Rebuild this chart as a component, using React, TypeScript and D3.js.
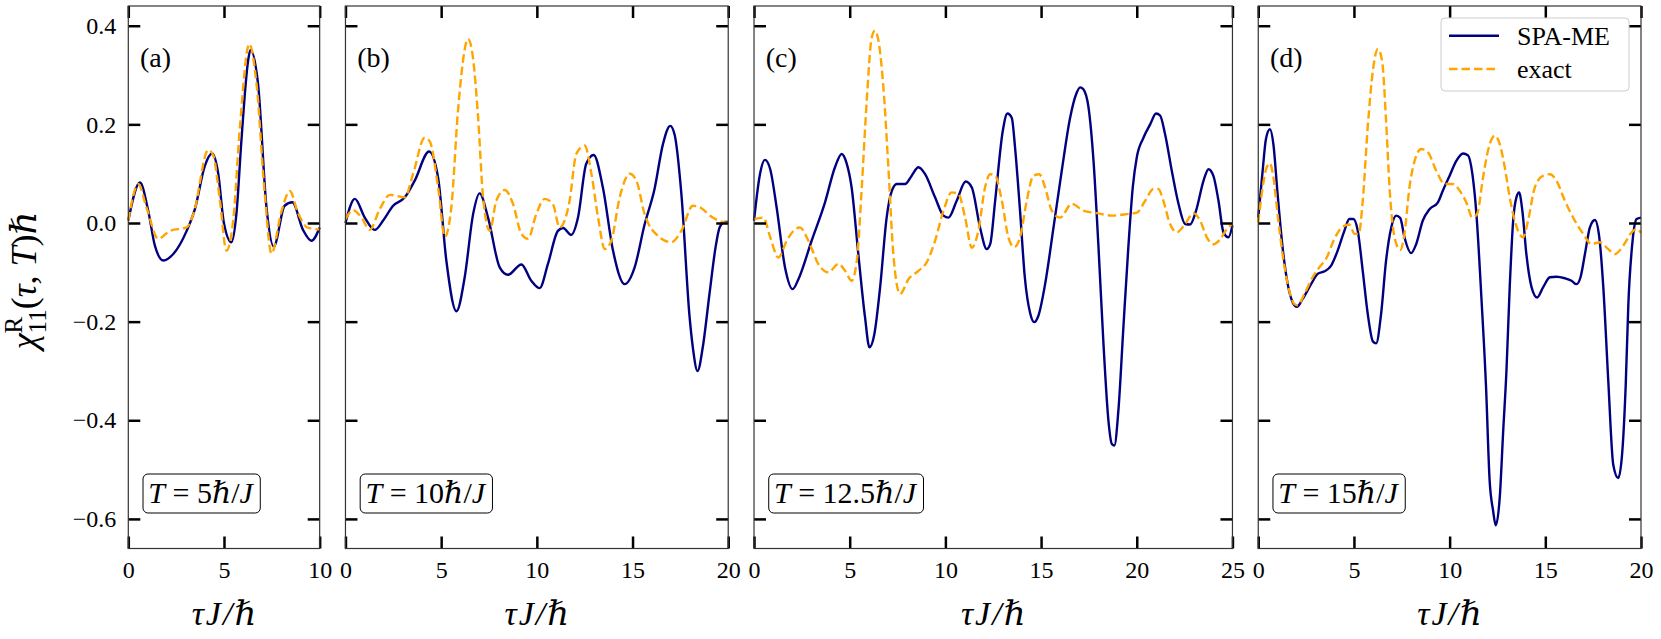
import * as d3 from 'd3'
import { useEffect, useRef, type ReactElement } from 'react'

type Pt = [number, number]

// SPA-ME and exact response (tau, chi)
const spaA: Pt[] = [
  [0, 0.005], [0.61, 0.082], [1.04, 0.025], [1.39, -0.046], [1.83, -0.076], [2.35, -0.063],
  [3.05, -0.016], [3.48, 0.028], [4.0, 0.116], [4.38, 0.141], [4.7, 0.1], [4.99, 0.001],
  [5.39, -0.039], [5.65, 0.019], [5.91, 0.167], [6.26, 0.329], [6.38, 0.351], [6.78, 0.282],
  [7.22, 0.032], [7.6, -0.048], [8.17, 0.035], [8.57, 0.042], [9.13, -0.014], [9.57, -0.036],
  [10, -0.009],
]
const exactA: Pt[] = [
  [0, 0.005], [0.52, 0.079], [0.96, 0.03], [1.57, -0.032], [2.17, -0.016], [3.05, -0.009],
  [3.4, 0.018], [4.18, 0.148], [4.44, 0.137], [4.79, 0.045], [5.13, -0.056], [5.48, 0.005],
  [5.83, 0.194], [6.32, 0.363], [6.7, 0.282], [7.13, 0.059], [7.48, -0.062], [8.0, 0.023],
  [8.44, 0.065], [8.87, 0.02], [9.4, -0.01], [10, -0.013],
]
const spaB: Pt[] = [
  [0, 0.0], [0.49, 0.049], [1.01, 0.011], [1.53, -0.014], [1.97, 0.005], [2.49, 0.035],
  [3.1, 0.052], [3.62, 0.086], [4.37, 0.145], [4.84, 0.092], [5.27, -0.076], [5.8, -0.179],
  [6.23, -0.11], [6.67, 0.018], [7.01, 0.06], [7.45, 0.011], [8.06, -0.09], [8.49, -0.105],
  [9.19, -0.084], [9.71, -0.117], [10.15, -0.132], [10.58, -0.083], [11.1, -0.016], [11.37, -0.01],
  [11.8, -0.024], [12.15, 0.011], [12.58, 0.12], [12.97, 0.138], [13.45, 0.072], [13.98, -0.056],
  [14.59, -0.124], [15.11, -0.09], [15.63, -0.003], [16.15, 0.069], [16.59, 0.16], [16.97, 0.197],
  [17.2, 0.179], [17.55, 0.06], [17.98, -0.19], [18.15, -0.252], [18.4, -0.3], [18.67, -0.252],
  [19.02, -0.144], [19.34, -0.049], [19.55, -0.009], [19.81, 0.002], [20, 0.002],
]
const exactB: Pt[] = [
  [0, 0.008], [0.4, 0.026], [0.84, 0.011], [1.27, -0.014], [1.79, 0.028], [2.32, 0.057],
  [3.1, 0.052], [3.53, 0.099], [4.14, 0.173], [4.4, 0.166], [4.84, 0.072], [5.19, -0.028],
  [5.53, 0.031], [5.88, 0.228], [6.41, 0.373], [6.67, 0.333], [6.93, 0.214], [7.19, 0.052],
  [7.54, -0.016], [7.88, 0.045], [8.32, 0.067], [8.76, 0.038], [9.19, -0.022], [9.54, -0.032],
  [9.97, 0.018], [10.41, 0.049], [10.84, 0.038], [11.19, -0.009], [11.71, 0.045], [12.06, 0.14],
  [12.5, 0.157], [12.85, 0.1], [13.2, 0.011], [13.55, -0.053], [13.89, -0.036], [14.33, 0.052],
  [14.85, 0.1], [15.2, 0.086], [15.63, 0.018], [16.32, -0.026], [17.02, -0.039], [17.55, -0.016],
  [18.15, 0.035], [18.6, 0.03], [19.11, 0.013], [19.64, 0.003], [20, 0.0],
]
const spaC: Pt[] = [
  [0, 0.005], [0.31, 0.099], [0.57, 0.128], [0.84, 0.11], [1.18, 0.032], [1.62, -0.09],
  [2.02, -0.134], [2.32, -0.114], [3.01, -0.036], [3.71, 0.042], [4.23, 0.113], [4.58, 0.14],
  [4.84, 0.121], [5.1, 0.072], [5.45, -0.063], [5.8, -0.191], [6.03, -0.252], [6.29, -0.225],
  [6.59, -0.13], [6.93, 0.011], [7.2, 0.065], [7.46, 0.079], [7.89, 0.079], [8.24, 0.096],
  [8.59, 0.113], [8.94, 0.099], [9.46, 0.052], [9.9, 0.015], [10.16, 0.011], [10.59, 0.045],
  [11.06, 0.084], [11.38, 0.072], [11.81, -0.009], [12.16, -0.053], [12.34, -0.043], [12.6, 0.045],
  [13.0, 0.187], [13.24, 0.222], [13.47, 0.213], [13.64, 0.153], [13.9, 0.025], [14.15, -0.11],
  [14.43, -0.183], [14.64, -0.201], [14.86, -0.188], [15.21, -0.124], [15.65, -0.009], [16.08, 0.106],
  [16.52, 0.214], [16.83, 0.261], [17.04, 0.275], [17.21, 0.271], [17.48, 0.234], [17.74, 0.126],
  [18.0, -0.049], [18.26, -0.245], [18.52, -0.401], [18.7, -0.448], [18.83, -0.451], [19.04, -0.38],
  [19.3, -0.212], [19.56, -0.049], [19.79, 0.072], [20.0, 0.133], [20.35, 0.173], [20.7, 0.2],
  [21.01, 0.222], [21.22, 0.218], [21.48, 0.18], [21.83, 0.106], [22.18, 0.039], [22.53, -0.002],
  [22.79, -0.003], [23.1, 0.025], [23.49, 0.086], [23.75, 0.109], [24.0, 0.096], [24.27, 0.045],
  [24.53, -0.019], [24.79, -0.029], [25.0, -0.005],
]
const exactC: Pt[] = [
  [0, 0.008], [0.49, 0.011], [0.84, -0.028], [1.27, -0.07], [1.71, -0.036], [2.06, -0.016],
  [2.4, -0.009], [2.84, -0.036], [3.36, -0.083], [3.89, -0.1], [4.41, -0.083], [4.76, -0.097],
  [5.1, -0.117], [5.37, -0.077], [5.63, 0.072], [5.89, 0.248], [6.15, 0.376], [6.32, 0.39],
  [6.53, 0.363], [6.76, 0.275], [7.02, 0.113], [7.28, -0.063], [7.63, -0.144], [8.07, -0.114],
  [8.59, -0.097], [9.02, -0.08], [9.46, -0.036], [9.9, 0.025], [10.33, 0.062], [10.68, 0.059],
  [11.03, 0.011], [11.38, -0.05], [11.72, -0.016], [12.07, 0.072], [12.34, 0.099], [12.6, 0.096],
  [12.95, 0.045], [13.29, -0.029], [13.59, -0.049], [13.9, -0.029], [14.25, 0.045], [14.6, 0.096],
  [14.91, 0.099], [15.21, 0.072], [15.56, 0.025], [16.0, 0.011], [16.6, 0.039], [17.21, 0.025],
  [17.91, 0.02], [18.7, 0.015], [19.48, 0.018], [20.0, 0.021], [20.44, 0.045], [20.87, 0.069],
  [21.13, 0.069], [21.39, 0.045], [21.74, -0.002], [22.09, -0.019], [22.53, -0.002], [22.96, 0.02],
  [23.31, 0.005], [23.66, -0.029], [24.01, -0.043], [24.36, -0.033], [24.71, -0.012], [25.0, -0.002],
]
const spaD: Pt[] = [
  [0, 0.011], [0.23, 0.106], [0.4, 0.17], [0.61, 0.19], [0.79, 0.16], [1.01, 0.059],
  [1.27, -0.049], [1.54, -0.124], [1.8, -0.161], [2.02, -0.17], [2.32, -0.154], [2.76, -0.124],
  [3.11, -0.103], [3.46, -0.098], [3.8, -0.087], [4.15, -0.056], [4.5, -0.016], [4.76, 0.008],
  [4.97, 0.008], [5.2, -0.016], [5.46, -0.097], [5.72, -0.184], [5.99, -0.24], [6.16, -0.244],
  [6.42, -0.184], [6.68, -0.076], [6.95, -0.009], [7.21, 0.015], [7.42, 0.01], [7.64, -0.029],
  [7.99, -0.061], [8.25, -0.043], [8.6, 0.005], [8.95, 0.028], [9.39, 0.042], [9.65, 0.066],
  [10.0, 0.096], [10.35, 0.126], [10.7, 0.141], [10.96, 0.137], [11.19, 0.099], [11.4, 0.018],
  [11.66, -0.151], [11.9, -0.33], [12.09, -0.522], [12.27, -0.583], [12.41, -0.613], [12.62, -0.556],
  [12.8, -0.421], [12.97, -0.299], [13.14, -0.13], [13.32, 0.005], [13.49, 0.052], [13.63, 0.062],
  [13.8, 0.025], [14.01, -0.063], [14.28, -0.13], [14.57, -0.151], [14.89, -0.13], [15.24, -0.11],
  [15.58, -0.109], [16.02, -0.112], [16.37, -0.117], [16.63, -0.124], [16.84, -0.11], [17.07, -0.063],
  [17.33, -0.009], [17.59, 0.006], [17.82, -0.029], [18.03, -0.13], [18.29, -0.32], [18.55, -0.49],
  [18.81, -0.517], [19.02, -0.465], [19.2, -0.33], [19.34, -0.164], [19.56, -0.036], [19.77, 0.008],
  [20, 0.011],
]
const exactD: Pt[] = [
  [0, 0.001], [0.23, 0.072], [0.44, 0.113], [0.61, 0.121], [0.79, 0.093], [1.01, 0.018],
  [1.27, -0.063], [1.54, -0.124], [1.88, -0.164], [2.06, -0.167], [2.41, -0.144], [2.84, -0.11],
  [3.19, -0.09], [3.54, -0.073], [3.98, -0.032], [4.42, -0.007], [4.76, -0.003], [5.03, -0.022],
  [5.25, -0.022], [5.46, 0.045], [5.72, 0.194], [5.99, 0.309], [6.25, 0.353], [6.47, 0.329],
  [6.68, 0.207], [6.86, 0.072], [7.12, -0.029], [7.42, -0.055], [7.64, -0.022], [7.9, 0.072],
  [8.17, 0.126], [8.52, 0.15], [8.87, 0.143], [9.3, 0.106], [9.74, 0.079], [10.17, 0.079],
  [10.52, 0.066], [10.87, 0.042], [11.19, 0.011], [11.43, 0.018], [11.75, 0.093], [12.0, 0.146],
  [12.36, 0.177], [12.62, 0.16], [12.88, 0.113], [13.14, 0.052], [13.4, 0.005], [13.84, -0.029],
  [14.1, 0.005], [14.45, 0.072], [14.89, 0.096], [15.24, 0.099], [15.58, 0.086], [16.02, 0.045],
  [16.54, 0.005], [16.98, -0.022], [17.42, -0.043], [17.85, -0.039], [18.29, -0.053], [18.64, -0.063],
  [19.07, -0.046], [19.51, -0.019], [19.77, -0.012], [20, -0.02],
]

const tMaxes = [10, 20, 25, 20]
const panelTags = ['(a)', '(b)', '(c)', '(d)']
const periodLabels = ['5', '10', '12.5', '15']
const spaSeries = [spaA, spaB, spaC, spaD]
const exactSeries = [exactA, exactB, exactC, exactD]
const yTicks = [-0.6, -0.4, -0.2, 0, 0.2, 0.4]
const seriesNames = ['SPA-ME', 'exact']

const width = 1661
const height = 639
const plotLeft = 128.3
const plotRight = 1641
const plotTop = 6
const plotBottom = 548.5
const panelGap = 25.8
const yDomain: [number, number] = [-0.66, 0.44]
const spaColor = '#000080'
const exactColor = '#ffa500'
const serif = '"Liberation Serif", "DejaVu Serif", serif'
const tickLen = 12
const lineWidth = 2.4
const dash = '8.5,4'

export default function App(): ReactElement {
  const svgRef = useRef<SVGSVGElement>(null)

  useEffect(() => {
    const svgEl = svgRef.current
    if (!svgEl) return
    const svg = d3.select(svgEl)
    svg.selectAll('*').remove()

    const pxPerUnit = (plotRight - plotLeft - panelGap * (tMaxes.length - 1)) / d3.sum(tMaxes)
    const y = d3.scaleLinear().domain(yDomain).range([plotBottom, plotTop])

    let left = plotLeft
    tMaxes.forEach((tMax, i) => {
      const w = tMax * pxPerUnit
      const x = d3.scaleLinear().domain([0, tMax]).range([left, left + w])
      const panel = svg.append('g')

      const line = d3
        .line<Pt>()
        .x((d) => x(d[0]))
        .y((d) => y(d[1]))
        .curve(d3.curveMonotoneX)

      panel
        .append('path')
        .datum(spaSeries[i])
        .attr('fill', 'none')
        .attr('stroke', spaColor)
        .attr('stroke-width', lineWidth)
        .attr('stroke-linejoin', 'round')
        .attr('d', line)

      panel
        .append('path')
        .datum(exactSeries[i])
        .attr('fill', 'none')
        .attr('stroke', exactColor)
        .attr('stroke-width', lineWidth)
        .attr('stroke-dasharray', dash)
        .attr('d', line)

      const xTicks = d3.range(0, tMax + 0.001, 5)
      const styleAxis = (g: d3.Selection<SVGGElement, unknown, null, undefined>) => {
        g.select('.domain').remove()
        g.selectAll('.tick line').attr('stroke', '#000').attr('stroke-width', 2.5)
        g.selectAll('.tick text').attr('fill', '#000')
        g.attr('font-family', serif).attr('font-size', 24)
      }

      panel
        .append('g')
        .attr('transform', `translate(0,${plotBottom})`)
        .call(d3.axisBottom(x).tickValues(xTicks).tickSize(-tickLen).tickPadding(12).tickFormat(d3.format('d')))
        .call(styleAxis)
      panel
        .append('g')
        .attr('transform', `translate(0,${plotTop})`)
        .call(d3.axisTop(x).tickValues(xTicks).tickSize(-tickLen).tickFormat(() => ''))
        .call(styleAxis)
      panel
        .append('g')
        .attr('transform', `translate(${left},0)`)
        .call(
          d3
            .axisLeft(y)
            .tickValues(yTicks)
            .tickSize(-tickLen)
            .tickPadding(12)
            .tickFormat(i === 0 ? d3.format('.1f') : () => ''),
        )
        .call(styleAxis)
      panel
        .append('g')
        .attr('transform', `translate(${left + w},0)`)
        .call(d3.axisRight(y).tickValues(yTicks).tickSize(-tickLen).tickFormat(() => ''))
        .call(styleAxis)

      panel
        .append('rect')
        .attr('x', left)
        .attr('y', plotTop)
        .attr('width', w)
        .attr('height', plotBottom - plotTop)
        .attr('fill', 'none')
        .attr('stroke', '#333')
        .attr('stroke-width', 1.2)

      panel
        .append('text')
        .attr('x', left + 11.7)
        .attr('y', 67)
        .attr('font-family', serif)
        .attr('font-size', 28)
        .text(panelTags[i])

      // T = ... box
      const note = panel
        .append('text')
        .attr('x', left + 20)
        .attr('y', 503)
        .attr('font-family', serif)
        .attr('font-size', 30)
      note.append('tspan').attr('font-style', 'italic').text('T')
      note.append('tspan').text(` = ${periodLabels[i]}`)
      note.append('tspan').attr('font-style', 'italic').text('ℏ')
      note.append('tspan').text('/')
      note.append('tspan').attr('font-style', 'italic').text('J')
      const noteNode = note.node() as SVGTextElement
      const bb = noteNode.getBBox()
      panel
        .insert('rect', () => noteNode)
        .attr('x', left + 14.7)
        .attr('y', 474)
        .attr('width', bb.width + 11)
        .attr('height', 39)
        .attr('rx', 5)
        .attr('fill', '#fff')
        .attr('stroke', '#000')
        .attr('stroke-width', 1)

      const xl = panel
        .append('text')
        .attr('x', left + w / 2)
        .attr('y', 625)
        .attr('text-anchor', 'middle')
        .attr('font-family', serif)
        .attr('font-size', 34)
        .attr('font-style', 'italic')
      xl.append('tspan').text('τ')
      xl.append('tspan').attr('dx', 2).text('J')
      xl.append('tspan').attr('dx', 2).text('/')
      xl.append('tspan').attr('dx', 2).text('ℏ')

      if (i === tMaxes.length - 1) {
        const lg = panel.append('g').attr('transform', `translate(${left + w - 200},18)`)
        lg.append('rect')
          .attr('width', 188)
          .attr('height', 73)
          .attr('rx', 4)
          .attr('fill', '#fff')
          .attr('fill-opacity', 0.8)
          .attr('stroke', '#cccccc')
          .attr('stroke-width', 1)
        seriesNames.forEach((name, k) => {
          const ly = 17.7 + k * 33.3
          lg.append('line')
            .attr('x1', 8)
            .attr('x2', 58)
            .attr('y1', ly)
            .attr('y2', ly)
            .attr('stroke', k === 0 ? spaColor : exactColor)
            .attr('stroke-width', lineWidth)
            .attr('stroke-dasharray', k === 0 ? null : dash)
          lg.append('text')
            .attr('x', 76)
            .attr('y', ly + 9)
            .attr('font-family', serif)
            .attr('font-size', 26)
            .text(name)
        })
      }

      left += w + panelGap
    })

    const yl = svg
      .append('text')
      .attr('transform', `translate(36,${(plotTop + plotBottom) / 2 + 3}) rotate(-90)`)
      .attr('text-anchor', 'middle')
      .attr('font-family', serif)
      .attr('font-size', 36)
    yl.append('tspan').attr('font-style', 'italic').text('χ')
    yl.append('tspan').attr('font-size', 25).attr('dy', -14).text('R')
    yl.append('tspan').attr('font-size', 25).attr('dx', -16.7).attr('dy', 24).text('11')
    yl.append('tspan').attr('dy', -10).text('(')
    yl.append('tspan').attr('font-style', 'italic').text('τ')
    yl.append('tspan').text(', ')
    yl.append('tspan').attr('font-style', 'italic').text('T')
    yl.append('tspan').text(')')
    yl.append('tspan').attr('font-style', 'italic').text('ℏ')
  }, [])

  return (
    <svg
      ref={svgRef}
      width={width}
      height={height}
      style={{ position: 'absolute', left: 0, top: 0, background: '#fff' }}
    />
  )
}
